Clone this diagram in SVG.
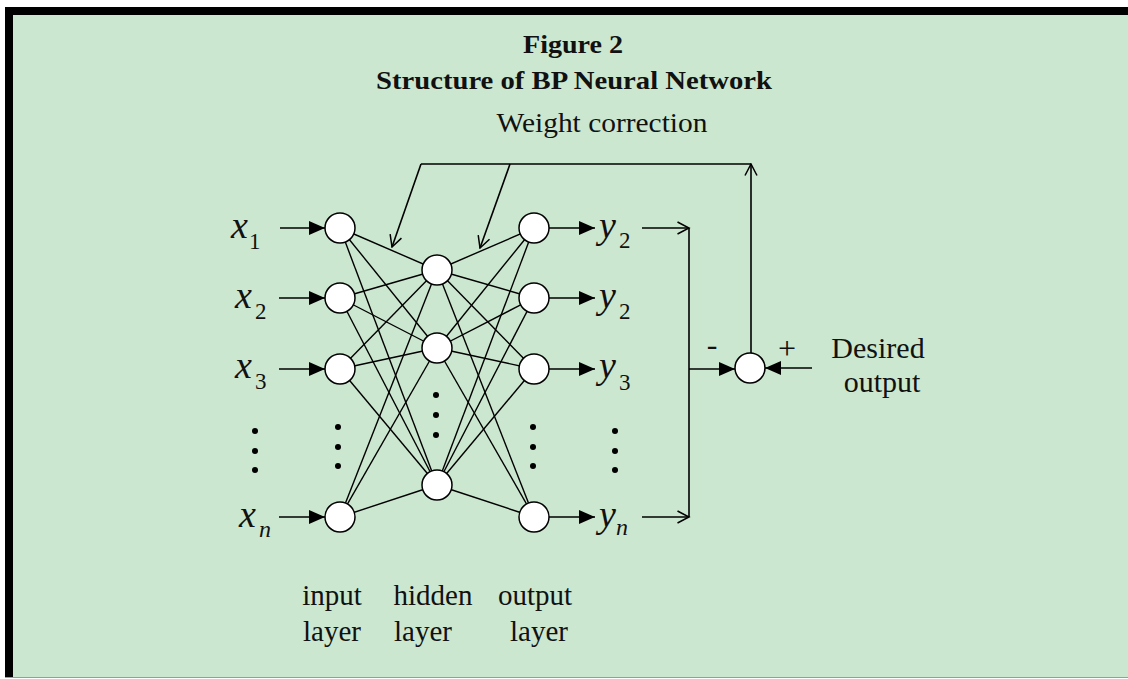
<svg xmlns="http://www.w3.org/2000/svg" width="1128" height="679" viewBox="0 0 1128 679">
<defs>
<style>
.t{font-family:"Liberation Serif","Times New Roman",serif;fill:#111}
.ti{font-family:"Liberation Serif","Times New Roman",serif;font-style:italic;fill:#111}
.e{stroke:#000;stroke-width:1.4;fill:none}
.c{stroke:#000;stroke-width:1.6;fill:none}
.n{fill:#fff;stroke:#000;stroke-width:1.5}
.d{fill:#000}
</style>
<marker id="fa" markerUnits="userSpaceOnUse" markerWidth="17" markerHeight="14" refX="16" refY="7" orient="auto">
<path d="M0,0 L16,7 L0,14 z" fill="#000"/>
</marker>
<marker id="oa" markerUnits="userSpaceOnUse" markerWidth="14" markerHeight="14" refX="12.5" refY="7" orient="auto">
<path d="M1,1 L12.5,7 L1,13" fill="none" stroke="#000" stroke-width="1.5"/>
</marker>
</defs>
<rect x="0" y="0" width="1128" height="679" fill="#fff"/>
<rect x="5" y="7" width="1123" height="671" fill="#cce7cf"/>
<rect x="5" y="7" width="1123" height="8" fill="#000"/>
<rect x="5" y="7" width="8" height="671" fill="#000"/>
<line x1="5" y1="677.5" x2="1128" y2="677.5" stroke="#8fa38f" stroke-width="1"/>

<g id="title">
<text class="t" x="573" y="53" font-size="26" font-weight="bold" text-anchor="middle" textLength="100" lengthAdjust="spacingAndGlyphs">Figure 2</text>
<text class="t" x="574" y="89" font-size="26" font-weight="bold" text-anchor="middle" textLength="396" lengthAdjust="spacingAndGlyphs">Structure of BP Neural Network</text>
<text class="t" x="602" y="132" font-size="28" text-anchor="middle" textLength="211" lengthAdjust="spacingAndGlyphs">Weight correction</text>
</g>

<g id="connectors">
<g class="e">
<line x1="340" y1="228" x2="437" y2="270"/><line x1="340" y1="228" x2="437" y2="348"/><line x1="340" y1="228" x2="437" y2="485"/>
<line x1="340" y1="298" x2="437" y2="270"/><line x1="340" y1="298" x2="437" y2="348"/><line x1="340" y1="298" x2="437" y2="485"/>
<line x1="340" y1="369" x2="437" y2="270"/><line x1="340" y1="369" x2="437" y2="348"/><line x1="340" y1="369" x2="437" y2="485"/>
<line x1="340" y1="517" x2="437" y2="270"/><line x1="340" y1="517" x2="437" y2="348"/><line x1="340" y1="517" x2="437" y2="485"/>
<line x1="437" y1="270" x2="534" y2="228"/><line x1="437" y1="270" x2="534" y2="298"/><line x1="437" y1="270" x2="534" y2="369"/><line x1="437" y1="270" x2="534" y2="517"/>
<line x1="437" y1="348" x2="534" y2="228"/><line x1="437" y1="348" x2="534" y2="298"/><line x1="437" y1="348" x2="534" y2="369"/><line x1="437" y1="348" x2="534" y2="517"/>
<line x1="437" y1="485" x2="534" y2="228"/><line x1="437" y1="485" x2="534" y2="298"/><line x1="437" y1="485" x2="534" y2="369"/><line x1="437" y1="485" x2="534" y2="517"/>
</g>
<g class="c">
<line x1="280" y1="228" x2="325" y2="228" marker-end="url(#fa)"/>
<line x1="279" y1="298" x2="325" y2="298" marker-end="url(#fa)"/>
<line x1="279" y1="369" x2="325" y2="369" marker-end="url(#fa)"/>
<line x1="279" y1="517" x2="325" y2="517" marker-end="url(#fa)"/>
<line x1="549" y1="228" x2="595" y2="228" marker-end="url(#fa)"/>
<line x1="549" y1="298" x2="595" y2="298" marker-end="url(#fa)"/>
<line x1="549" y1="369" x2="595" y2="369" marker-end="url(#fa)"/>
<line x1="549" y1="517" x2="595" y2="517" marker-end="url(#fa)"/>
<line x1="642" y1="228" x2="689" y2="228" marker-end="url(#oa)"/>
<line x1="642" y1="517" x2="689" y2="517" marker-end="url(#oa)"/>
<line x1="689" y1="228" x2="689" y2="517"/>
<line x1="689" y1="369" x2="735" y2="369" marker-end="url(#fa)"/>
<line x1="812" y1="368" x2="765" y2="368" marker-end="url(#fa)"/>
<line x1="751" y1="353" x2="751" y2="164" marker-end="url(#oa)"/>
<line x1="421" y1="164" x2="751" y2="164"/>
<line x1="421" y1="164" x2="392" y2="247" marker-end="url(#oa)"/>
<line x1="510" y1="164" x2="480" y2="248" marker-end="url(#oa)"/>
</g>
</g>

<g id="input-layer">
<circle class="n" cx="340" cy="228" r="15"/>
<circle class="n" cx="340" cy="298" r="15"/>
<circle class="n" cx="340" cy="369" r="15"/>
<circle class="n" cx="340" cy="517" r="15"/>
<circle class="d" cx="338" cy="427" r="3"/><circle class="d" cx="338" cy="447" r="3"/><circle class="d" cx="338" cy="466" r="3"/>
</g>
<g id="hidden-layer">
<circle class="n" cx="437" cy="270" r="15"/>
<circle class="n" cx="437" cy="348" r="15"/>
<circle class="n" cx="437" cy="485" r="15"/>
<circle class="d" cx="436" cy="395" r="3"/><circle class="d" cx="436" cy="415" r="3"/><circle class="d" cx="436" cy="435" r="3"/>
</g>
<g id="output-layer">
<circle class="n" cx="534" cy="228" r="15"/>
<circle class="n" cx="534" cy="298" r="15"/>
<circle class="n" cx="534" cy="369" r="15"/>
<circle class="n" cx="534" cy="517" r="15"/>
<circle class="d" cx="533" cy="427" r="3"/><circle class="d" cx="533" cy="447" r="3"/><circle class="d" cx="533" cy="466" r="3"/>
</g>
<g id="sum-node">
<circle class="n" cx="750" cy="368" r="15"/>
<text class="t" x="712" y="355" font-size="32" text-anchor="middle">-</text>
<text class="t" x="787" y="359" font-size="32" text-anchor="middle">+</text>
</g>

<g id="x-labels">
<text class="ti" x="231" y="238" font-size="38">x</text><text class="t" x="249" y="249" font-size="23">1</text>
<text class="ti" x="235" y="308" font-size="38">x</text><text class="t" x="255" y="319" font-size="23">2</text>
<text class="ti" x="235" y="378" font-size="38">x</text><text class="t" x="255" y="389" font-size="23">3</text>
<text class="ti" x="239" y="527" font-size="38">x</text><text class="ti" x="259" y="537" font-size="24">n</text>
<circle class="d" cx="255" cy="431" r="3"/><circle class="d" cx="255" cy="451" r="3"/><circle class="d" cx="255" cy="470" r="3"/>
</g>
<g id="y-labels">
<text class="ti" x="599" y="238" font-size="38">y</text><text class="t" x="619" y="248" font-size="23">2</text>
<text class="ti" x="599" y="308" font-size="38">y</text><text class="t" x="619" y="319" font-size="23">2</text>
<text class="ti" x="599" y="378" font-size="38">y</text><text class="t" x="619" y="390" font-size="23">3</text>
<text class="ti" x="599" y="527" font-size="38">y</text><text class="ti" x="616" y="535" font-size="24">n</text>
<circle class="d" cx="615" cy="431" r="3"/><circle class="d" cx="615" cy="451" r="3"/><circle class="d" cx="615" cy="470" r="3"/>
</g>
<g id="desired-output">
<text class="t" x="878" y="358" font-size="30" text-anchor="middle">Desired</text>
<text class="t" x="882" y="392" font-size="30" text-anchor="middle">output</text>
</g>
<g id="layer-labels">
<text class="t" x="332" y="605" font-size="29" text-anchor="middle">input</text>
<text class="t" x="332" y="641" font-size="29" text-anchor="middle">layer</text>
<text class="t" x="433" y="605" font-size="29" text-anchor="middle">hidden</text>
<text class="t" x="423" y="641" font-size="29" text-anchor="middle">layer</text>
<text class="t" x="535" y="605" font-size="29" text-anchor="middle">output</text>
<text class="t" x="539" y="641" font-size="29" text-anchor="middle">layer</text>
</g>
</svg>
